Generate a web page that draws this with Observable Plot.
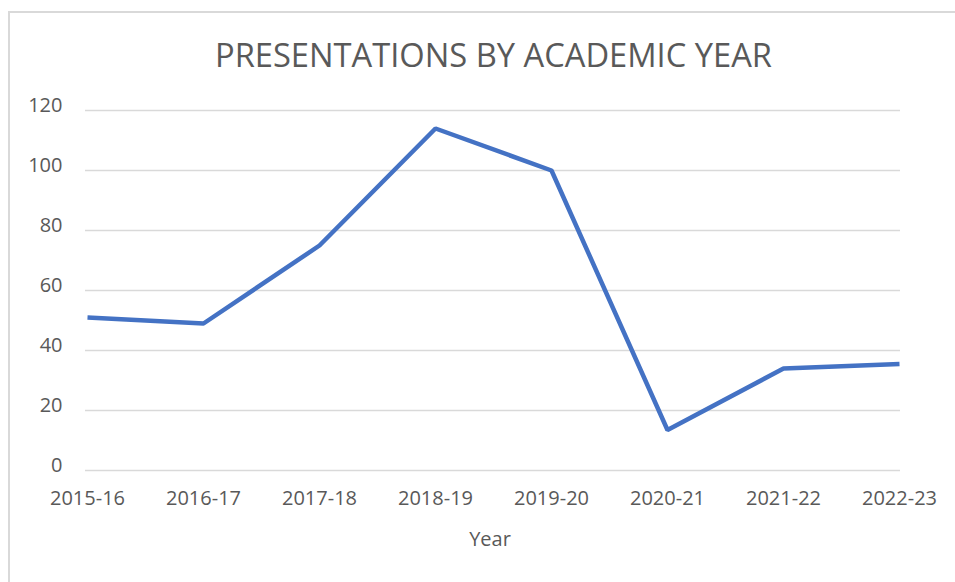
<!DOCTYPE html>
<html>
<head>
<meta charset="utf-8">
<script src="https://cdn.jsdelivr.net/npm/d3@7"></script>
<script src="https://cdn.jsdelivr.net/npm/@observablehq/plot@0.6"></script>
<style>
  html, body { margin: 0; padding: 0; background: #fff; }
  #chart { position: relative; width: 955px; height: 582px; overflow: hidden; }
  #frame { position: absolute; left: 8px; top: 11px; width: 1000px; height: 1000px;
           border-left: 2px solid #d9d9d9; border-top: 2px solid #d9d9d9; box-sizing: border-box; }
  #chart svg { position: absolute; left: 0; top: 0; }
</style>
</head>
<body>
<div id="chart"><div id="frame"></div></div>
<script>
const years = ["2015-16", "2016-17", "2017-18", "2018-19", "2019-20", "2020-21", "2021-22", "2022-23"];
const presentations = [51, 49, 75, 114, 100, 13.5, 34, 35.5];
const yTicks = [0, 20, 40, 60, 80, 100, 120];
const titleText = "PRESENTATIONS BY ACADEMIC YEAR";
const xLabel = "Year";

const data = years.map((y, i) => ({year: y, value: presentations[i]}));

const plot = Plot.plot({
  width: 955,
  height: 582,
  marginLeft: 85,
  marginRight: 55,
  marginTop: 110,
  marginBottom: 112,
  style: {fontFamily: "'Open Sans', sans-serif", fontSize: "20px", color: "#595959", background: "transparent"},
  x: {type: "point", domain: years, padding: 0},
  y: {domain: [0, 120]},
  marks: [
    Plot.gridY(yTicks, {stroke: "#d9d9d9", strokeOpacity: 1, strokeWidth: 1.5}),
    Plot.axisY(yTicks, {tickSize: 0, tickPadding: 23, dy: -5, label: null, fill: "#595959"}),
    Plot.axisX(years, {tickSize: 0, tickPadding: 20, label: null, fill: "#595959"}),
    Plot.line(data, {x: "year", y: "value", stroke: "#4472c4", strokeWidth: 4.5, strokeLinejoin: "miter", strokeLinecap: "butt"})
  ]
});

document.getElementById("chart").appendChild(plot);

const svg = d3.select(plot);
svg.append("text")
  .attr("x", 493.5).attr("y", 67)
  .attr("text-anchor", "middle")
  .attr("textLength", 557).attr("lengthAdjust", "spacingAndGlyphs")
  .style("font-family", "'Open Sans', sans-serif")
  .style("font-size", "32px")
  .style("fill", "#595959")
  .text(titleText);
svg.append("text")
  .attr("x", 490).attr("y", 546)
  .attr("text-anchor", "middle")
  .style("font-family", "'Open Sans', sans-serif")
  .style("font-size", "20px")
  .style("fill", "#595959")
  .text(xLabel);
</script>
</body>
</html>
